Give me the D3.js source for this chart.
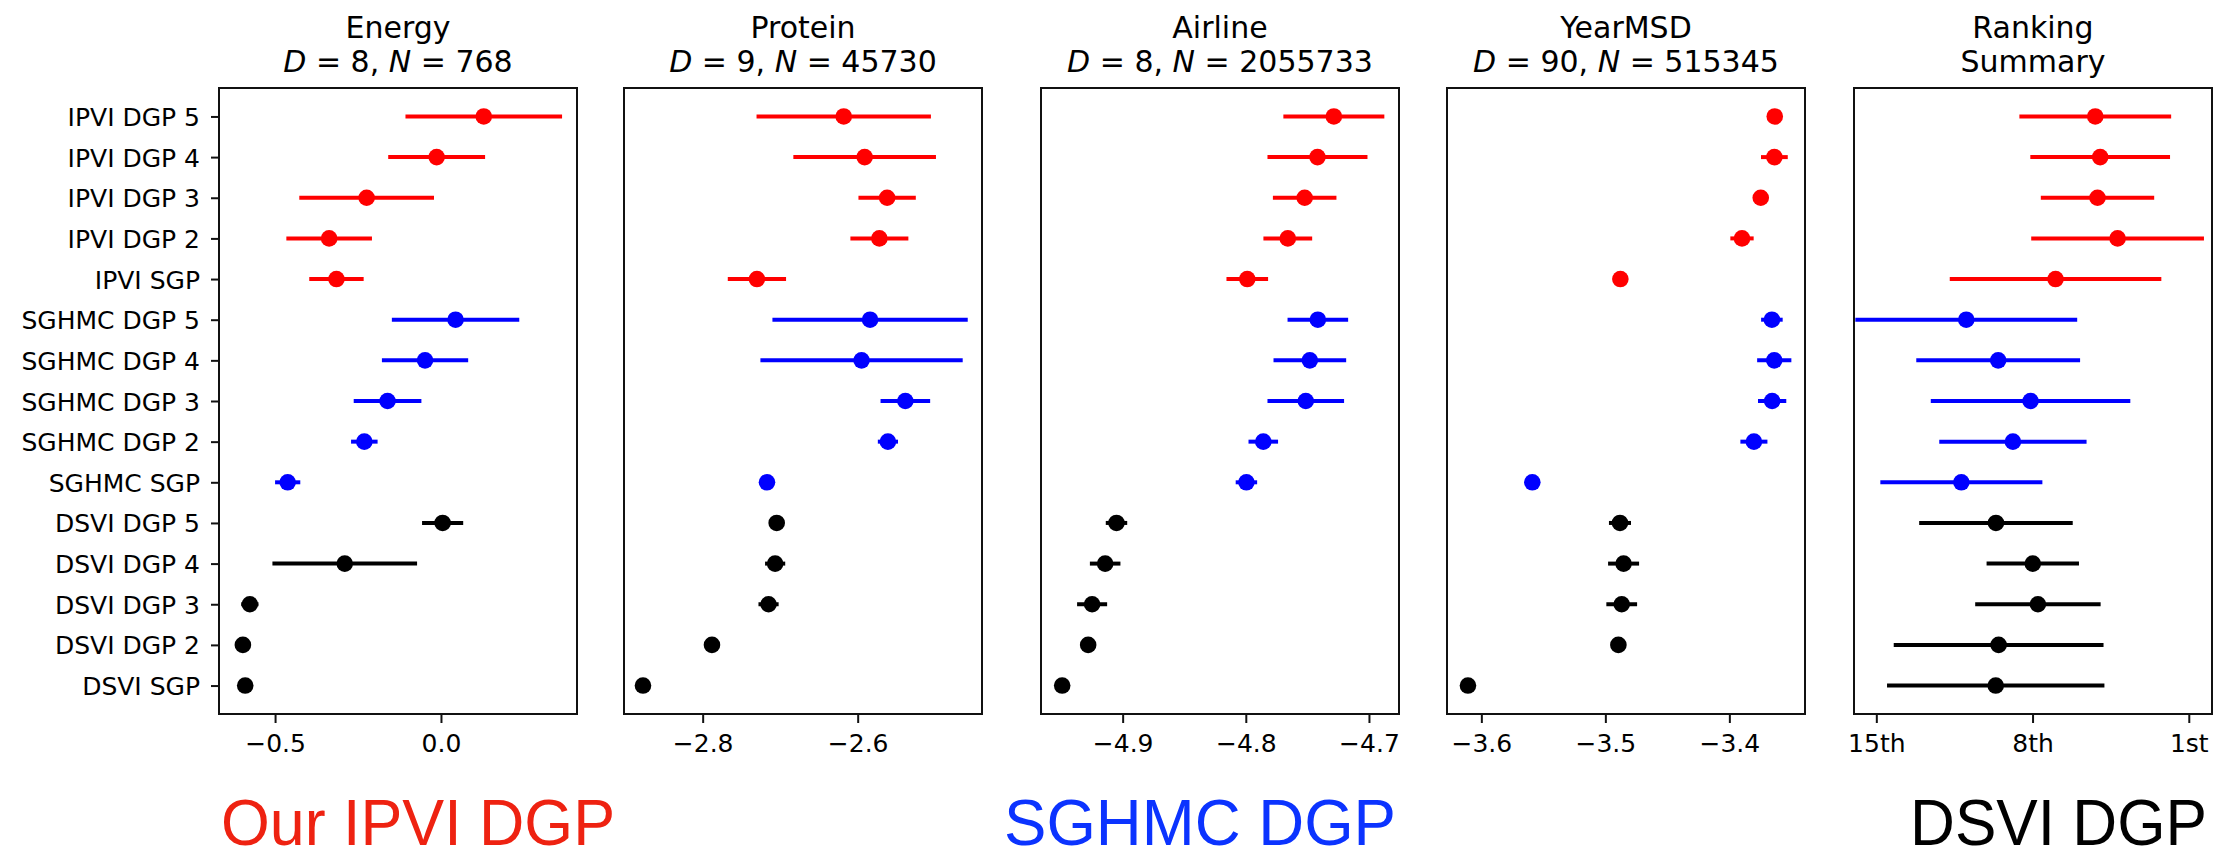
<!DOCTYPE html>
<html>
<head>
<meta charset="utf-8">
<script src="https://cdn.jsdelivr.net/npm/d3@7"></script>
<style>
  html, body { margin: 0; padding: 0; background: #fff; }
  svg { display: block; }
  text { font-family: "DejaVu Sans", sans-serif; }
</style>
</head>
<body>
<svg id="chart" width="2222" height="859"></svg>
<script>
// ---------------- DATA ----------------
const categories = ["IPVI DGP 5","IPVI DGP 4","IPVI DGP 3","IPVI DGP 2","IPVI SGP",
  "SGHMC DGP 5","SGHMC DGP 4","SGHMC DGP 3","SGHMC DGP 2","SGHMC SGP",
  "DSVI DGP 5","DSVI DGP 4","DSVI DGP 3","DSVI DGP 2","DSVI SGP"];
const methodGroup = ["IPVI","IPVI","IPVI","IPVI","IPVI",
  "SGHMC","SGHMC","SGHMC","SGHMC","SGHMC",
  "DSVI","DSVI","DSVI","DSVI","DSVI"];

const datasetNames = ["Energy", "Protein", "Airline", "YearMSD"];
const datasetD = [8, 9, 8, 90];
const datasetN = [768, 45730, 2055733, 515345];

const energyMean = [0.129, -0.013, -0.224, -0.337, -0.315, 0.044, -0.048, -0.161, -0.231, -0.462, 0.005, -0.290, -0.576, -0.597, -0.590];
const energyErr  = [0.236, 0.146, 0.203, 0.129, 0.082, 0.192, 0.130, 0.102, 0.040, 0.038, 0.062, 0.218, 0.026, 0.0, 0.0];

const proteinMean = [-2.618, -2.591, -2.562, -2.572, -2.730, -2.584, -2.595, -2.5385, -2.561, -2.717, -2.7045, -2.7065, -2.715, -2.788, -2.877];
const proteinErr  = [0.1125, 0.092, 0.037, 0.0374, 0.0376, 0.126, 0.1305, 0.032, 0.013, 0.0, 0.0, 0.013, 0.013, 0.0, 0.0];

const airlineMean = [-4.7285, -4.7418, -4.7522, -4.7659, -4.7988, -4.7415, -4.748, -4.7513, -4.7858, -4.7995, -4.905, -4.9142, -4.9248, -4.928, -4.9491];
const airlineErr  = [0.041, 0.0406, 0.0258, 0.0198, 0.0169, 0.0246, 0.0295, 0.0311, 0.012, 0.0087, 0.0087, 0.0124, 0.0122, 0.0, 0.0];

const yearMean = [-3.3634, -3.3637, -3.3747, -3.3898, -3.4879, -3.3657, -3.3638, -3.3655, -3.3802, -3.5589, -3.4882, -3.4853, -3.4868, -3.4895, -3.6108];
const yearErr  = [0.0, 0.0108, 0.0, 0.0094, 0.0, 0.0087, 0.0138, 0.0114, 0.0109, 0.0, 0.0089, 0.0125, 0.0124, 0.0, 0.0];

const rankMean = [5.19, 4.97, 5.09, 4.19, 6.97, 10.97, 9.54, 8.09, 8.88, 11.19, 9.64, 7.99, 7.76, 9.52, 9.65];
const rankErr  = [3.40, 3.13, 2.54, 3.87, 4.74, 4.97, 3.67, 4.47, 3.30, 3.63, 3.44, 2.07, 2.81, 4.70, 4.87];

const energyTicks = [-0.5, 0.0];
const proteinTicks = [-2.8, -2.6];
const airlineTicks = [-4.9, -4.8, -4.7];
const yearTicks = [-3.6, -3.5, -3.4];
const rankTicks = [15, 8, 1];
const rankTickLabels = ["15th", "8th", "1st"];

const legendLabels = ["Our IPVI DGP", "SGHMC DGP", "DSVI DGP"];

// ---------------- STYLE / LAYOUT ----------------
const groupColor = { IPVI: "#ff0000", SGHMC: "#0000ff", DSVI: "#000000" };
const legendColor = ["#ee2211", "#0b33ff", "#000000"];

const plotTop = 88, plotBottom = 714;
const panels = [
  { x0: 219,  x1: 577,  domain: [-0.669, 0.41],    mean: energyMean,  err: energyErr,  ticks: energyTicks,  fmt: d3.format(".1f"), title: 0 },
  { x0: 624,  x1: 982,  domain: [-2.9015, -2.4396], mean: proteinMean, err: proteinErr, ticks: proteinTicks, fmt: d3.format(".1f"), title: 1 },
  { x0: 1041, x1: 1399, domain: [-4.9663, -4.6756], mean: airlineMean, err: airlineErr, ticks: airlineTicks, fmt: d3.format(".1f"), title: 2 },
  { x0: 1447, x1: 1805, domain: [-3.6277, -3.339],  mean: yearMean,    err: yearErr,    ticks: yearTicks,    fmt: d3.format(".1f"), title: 3 },
  { x0: 1854, x1: 2212, domain: [16.0, -0.04],      mean: rankMean,    err: rankErr,    ticks: rankTicks,    fmt: (d) => rankTickLabels[rankTicks.indexOf(d)], title: -1 }
];

const svg = d3.select("#chart");
const y = d3.scalePoint().domain(categories).range([plotTop, plotBottom]).padding(0.7);

panels.forEach((p, pi) => {
  const x = d3.scaleLinear().domain(p.domain).range([p.x0, p.x1]);
  const g = svg.append("g");

  const clipId = "clip" + pi;
  svg.append("clipPath").attr("id", clipId)
    .append("rect").attr("x", p.x0).attr("y", plotTop).attr("width", p.x1 - p.x0).attr("height", plotBottom - plotTop);

  const rows = categories.map((c, i) => ({ c, m: p.mean[i], e: p.err[i], col: groupColor[methodGroup[i]] }));
  const marks = g.append("g").attr("clip-path", `url(#${clipId})`);

  marks.selectAll("line.err").data(rows.filter(r => r.e > 0)).join("line")
    .attr("class", "err")
    .attr("x1", r => x(r.m - r.e)).attr("x2", r => x(r.m + r.e))
    .attr("y1", r => y(r.c)).attr("y2", r => y(r.c))
    .attr("stroke", r => r.col).attr("stroke-width", 4);

  marks.selectAll("circle").data(rows).join("circle")
    .attr("cx", r => x(r.m)).attr("cy", r => y(r.c)).attr("r", 8.3)
    .attr("fill", r => r.col);

  // frame
  g.append("rect").attr("x", p.x0).attr("y", plotTop).attr("width", p.x1 - p.x0).attr("height", plotBottom - plotTop)
    .attr("fill", "none").attr("stroke", "#111").attr("stroke-width", 2);

  // x axis
  const xa = g.append("g").attr("transform", `translate(0,${plotBottom})`)
    .call(d3.axisBottom(x).tickValues(p.ticks).tickFormat(p.fmt).tickSize(9).tickPadding(11));
  xa.select(".domain").remove();
  xa.selectAll(".tick line").attr("stroke", "#111").attr("stroke-width", 2);
  xa.selectAll(".tick text").attr("font-size", 25).attr("font-family", "DejaVu Sans").attr("fill", "#000");

  // y axis only for first panel
  if (pi === 0) {
    const ya = g.append("g").attr("transform", `translate(${p.x0},0)`)
      .call(d3.axisLeft(y).tickSize(8).tickPadding(11));
    ya.select(".domain").remove();
    ya.selectAll(".tick line").attr("stroke", "#111").attr("stroke-width", 2);
    ya.selectAll(".tick text").attr("font-size", 25).attr("font-family", "DejaVu Sans").attr("fill", "#000").attr("dy", "0.36em");
  }

  // titles
  const cx = (p.x0 + p.x1) / 2;
  const t1 = g.append("text").attr("x", cx).attr("y", 38).attr("text-anchor", "middle")
    .attr("font-size", 30).attr("fill", "#000");
  const t2 = g.append("text").attr("x", cx).attr("y", 72).attr("text-anchor", "middle")
    .attr("font-size", 30).attr("fill", "#000");
  if (p.title >= 0) {
    t1.text(datasetNames[p.title]);
    t2.append("tspan").attr("font-style", "italic").text("D");
    t2.append("tspan").text(" = " + datasetD[p.title] + ", ");
    t2.append("tspan").attr("font-style", "italic").text("N");
    t2.append("tspan").text(" = " + datasetN[p.title]);
  } else {
    t1.text("Ranking");
    t2.text("Summary");
  }
});

// bottom legend labels
const legendPos = [
  { x: 221, y: 845, len: 394 },
  { x: 1004, y: 845, len: 392 },
  { x: 1910, y: 845, len: 297 }
];
legendLabels.forEach((lab, i) => {
  svg.append("text")
    .attr("x", legendPos[i].x).attr("y", legendPos[i].y)
    .style("font-family", "'Liberation Sans', Arial, sans-serif")
    .attr("font-size", 64)
    .attr("textLength", legendPos[i].len)
    .attr("lengthAdjust", "spacingAndGlyphs")
    .attr("fill", legendColor[i])
    .text(lab);
});
</script>
</body>
</html>
